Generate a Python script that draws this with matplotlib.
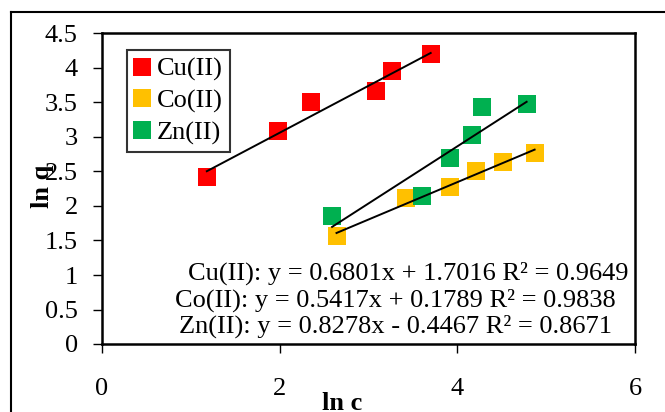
import matplotlib
matplotlib.use("Agg")
import matplotlib.pyplot as plt
from matplotlib.lines import Line2D
import numpy as np

plt.rcParams['font.family'] = ['Liberation Serif', 'DejaVu Serif']

# ---- data ----
series_names = ["Cu(II)", "Co(II)", "Zn(II)"]
cu_x = [1.18, 1.98, 2.35, 3.09, 3.27, 3.70]
cu_y = [2.42, 3.09, 3.50, 3.66, 3.96, 4.21]
co_x = [2.64, 3.42, 3.92, 4.21, 4.51, 4.87]
co_y = [1.57, 2.12, 2.28, 2.51, 2.64, 2.77]
zn_x = [2.59, 3.60, 3.92, 4.16, 4.28, 4.78]
zn_y = [1.86, 2.15, 2.70, 3.03, 3.44, 3.48]
slopes = [0.6801, 0.5417, 0.8278]
intercepts = [1.7016, 0.1789, -0.4467]
r2 = [0.9649, 0.9838, 0.8671]
eq_labels = [
    "Cu(II): y = 0.6801x + 1.7016 R² = 0.9649",
    "Co(II): y = 0.5417x + 0.1789 R² = 0.9838",
    "Zn(II): y = 0.8278x - 0.4467 R² = 0.8671",
]
x_ticks = [0, 2, 4, 6]
y_ticks = [0, 0.5, 1, 1.5, 2, 2.5, 3, 3.5, 4, 4.5]
y_tick_labels = ["0", "0.5", "1", "1.5", "2", "2.5", "3", "3.5", "4", "4.5"]

colors = ["#FF0000", "#FFC000", "#00B050"]
xs = [cu_x, co_x, zn_x]
ys = [cu_y, co_y, zn_y]

fig = plt.figure(figsize=(6.65, 4.12), dpi=100)
ax = fig.add_axes([102/665, 1 - 344/412, (635-102)/665, (344-33.5)/412])

for name, x, y, c in zip(series_names, xs, ys, colors):
    ax.plot(x, y, linestyle="none", marker="s", markersize=13, color=c,
            markeredgewidth=0, label=name, zorder=2)

for x, m, b in zip(xs, slopes, intercepts):
    xx = np.array([min(x), max(x)])
    ax.plot(xx, m * xx + b, color="black", lw=1.4, zorder=3)

ax.set_xlim(0, 6)
ax.set_ylim(0, 4.5)
ax.set_xticks(x_ticks)
ax.set_xticklabels([str(t) for t in x_ticks])
ax.set_yticks(y_ticks)
ax.set_yticklabels(y_tick_labels)
ax.tick_params(axis="both", direction="out", length=6.5, width=1.0,
               labelsize=19, colors="black")
ax.tick_params(axis="x", pad=18)
ax.tick_params(axis="y", pad=11)
for s in ax.spines.values():
    s.set_linewidth(1.8)

# axis labels placed manually
ax.text(2.7, -0.96, "ln c", fontsize=19, fontweight="bold",
        ha="center", va="baseline", clip_on=False)
ax.text(-0.67, 2.29, "ln q", fontsize=19, fontweight="bold",
        ha="center", va="center", rotation=90, clip_on=False)

# equations
eq_pos = [(3.45, 0.93), (3.30, 0.54), (3.30, 0.16)]
for (tx, ty), lab in zip(eq_pos, eq_labels):
    ax.text(tx, ty, lab, fontsize=19, ha="center", va="baseline")

leg = ax.legend(loc="upper left", bbox_to_anchor=(127/665, 1 - 50/412),
                bbox_transform=fig.transFigure, borderaxespad=0,
                fontsize=19, frameon=True, fancybox=False, handlelength=0.6,
                handletextpad=0.25, borderpad=0.28, labelspacing=0.3,
                markerscale=1.0)
leg.get_frame().set_edgecolor("black")
leg.get_frame().set_linewidth(1.5)

# outer chart border (partially cut off)
fig.add_artist(Line2D([11/665, 11/665], [0, 1 - 12/412], color="black",
                      lw=1.5, transform=fig.transFigure))
fig.add_artist(Line2D([11/665, 1], [1 - 12/412, 1 - 12/412], color="black",
                      lw=1.5, transform=fig.transFigure))

fig.savefig("out.png", dpi=100)
